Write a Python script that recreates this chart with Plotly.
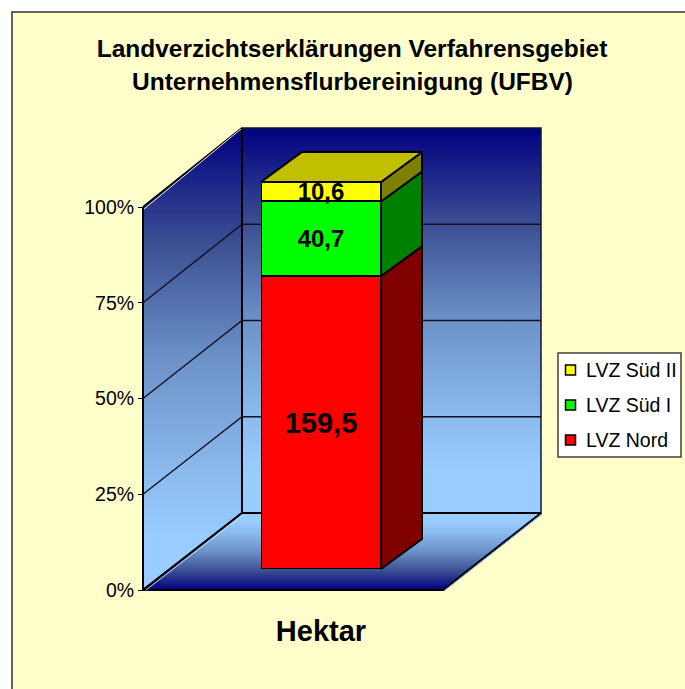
import plotly.graph_objects as go

# ---- data ----
category = ["Hektar"]
series_names = ["LVZ Nord", "LVZ Süd I", "LVZ Süd II"]
series_values = [159.5, 40.7, 10.6]
series_colors = ["#FF0000", "#00FF00", "#FFFF00"]
side_colors = ["#800000", "#008000", "#808000"]
top_color = "#C0C000"
pct_ticks = [0, 25, 50, 75, 100]
title_lines = ["Landverzichtserklärungen Verfahrensgebiet", "Unternehmensflurbereinigung (UFBV)"]

# ---- geometry of the pseudo-3D box (pixels) ----
W, H = 685, 689
WALL_L, WALL_R, WALL_T, WALL_B = 242, 541, 128, 513
FRONT_L, FRONT_R, FRONT_T, FRONT_B = 143, 443, 207, 590
BAR_L, BAR_R, BAR_T, BAR_B = 261, 381, 182, 569
DEPTH_X, DEPTH_Y = 41, -30
FONT = "Liberation Sans, Arial, sans-serif"

# wall shading, sky at the floor to navy at the top
SHADE = [[0, "#99CCFF"], [0.11, "#99CCFF"], [0.25, "#8CBBEE"], [0.5, "#6C92C8"], [0.75, "#3B4F92"], [1, "#000080"]]
SHADE_REV = [[round(1 - p, 2), c] for p, c in SHADE[::-1]]

fig = go.Figure()


def poly(xs, ys, fill=None, grad=None, lw=1.5, lc="black", yaxis="y", xaxis="x"):
    kw = dict(x=xs + xs[:1], y=ys + ys[:1], mode="lines", fill="toself",
              line=dict(color=lc, width=lw), showlegend=False, hoverinfo="skip",
              xaxis=xaxis, yaxis=yaxis)
    if grad:
        kw["fillgradient"] = grad
    else:
        kw["fillcolor"] = fill
    fig.add_trace(go.Scatter(**kw))


def edge(xs, ys, color, width):
    fig.add_trace(go.Scatter(x=xs, y=ys, mode="lines", line=dict(color=color, width=width),
                             showlegend=False, hoverinfo="skip"))


left_grad = dict(type="vertical", colorscale=SHADE, start=FRONT_B, stop=WALL_T)
back_grad = dict(type="vertical", colorscale=SHADE, start=WALL_B, stop=WALL_T)
floor_grad = dict(type="vertical", colorscale=SHADE_REV, start=FRONT_B, stop=WALL_B)

# walls and floor
poly([WALL_L, WALL_R, WALL_R, WALL_L], [WALL_T, WALL_T, WALL_B, WALL_B], grad=back_grad, lc="#101830")
poly([FRONT_L, WALL_L, WALL_L, FRONT_L], [FRONT_T, WALL_T, WALL_B, FRONT_B], grad=left_grad, lw=2)
poly([FRONT_L, FRONT_R, WALL_R, WALL_L], [FRONT_B, FRONT_B, WALL_B, WALL_B], grad=floor_grad, lw=2)

# highlights next to the edges
edge([FRONT_L + 1, WALL_L - 1], [FRONT_T + 2, WALL_T + 1], "#F4F0D8", 1)
edge([FRONT_L + 3, WALL_L + 1], [FRONT_B, WALL_B + 2], "#BBDDFF", 1)
edge([FRONT_R + 1, WALL_R + 1], [FRONT_B + 1, WALL_B + 1], "#6699EE", 1)

# grid lines, projected from the percent ticks
for t in pct_ticks[1:-1]:
    yf = FRONT_B + (FRONT_T - FRONT_B) * t / 100
    yb = WALL_B + (WALL_T - WALL_B) * t / 100
    fig.add_trace(go.Scatter(x=[FRONT_L, WALL_L, WALL_R], y=[yf, yb, yb], mode="lines",
                             line=dict(color="#101020", width=1.4),
                             showlegend=False, hoverinfo="skip"))

# side and top faces of the stacked bar, from the values
total = sum(series_values)
cum = 0.0
for v, c in zip(series_values, side_colors):
    y0 = BAR_B + (BAR_T - BAR_B) * cum / total
    cum += v
    y1 = BAR_B + (BAR_T - BAR_B) * cum / total
    poly([BAR_R, BAR_R + DEPTH_X, BAR_R + DEPTH_X, BAR_R],
         [y0, y0 + DEPTH_Y, y1 + DEPTH_Y, y1], fill=c, lw=2)
poly([BAR_L, BAR_R, BAR_R + DEPTH_X, BAR_L + DEPTH_X],
     [BAR_T, BAR_T, BAR_T + DEPTH_Y, BAR_T + DEPTH_Y], fill=top_color, lw=2)

# legend entries (compact key, as in the reference)
LEG_L, LEG_R, LEG_T, LEG_B = 558, 681, 353, 457
leg_rows = [370, 405, 440]
for name, color, yy in zip(series_names[::-1], series_colors[::-1], leg_rows):
    fig.add_trace(go.Scatter(x=[570.5], y=[yy], mode="markers", showlegend=False, hoverinfo="skip",
                             marker=dict(symbol="square", size=10, color=color,
                                         line=dict(color="black", width=1.5))))
    fig.add_annotation(x=584, y=yy, xref="x", yref="y", text=name, showarrow=False,
                       xanchor="left", yanchor="middle",
                       font=dict(family=FONT, size=19.5, color="black"))

# the bars themselves
for name, v, color, size in zip(series_names, series_values, series_colors, [29, 24, 24]):
    fig.add_trace(go.Bar(x=category, y=[v], name=name, marker=dict(color=color, line=dict(color="black", width=2)),
                         text=[f"{v}".replace(".", ",")], textposition="inside", insidetextanchor="middle",
                         textangle=0, constraintext="none", cliponaxis=False,
                         textfont=dict(family=FONT, size=size, color="black", weight="bold"),
                         xaxis="x2", yaxis="y2", showlegend=False))

# percent axis carrier
fig.add_trace(go.Scatter(x=[None], y=[None], xaxis="x", yaxis="y3", showlegend=False, hoverinfo="skip"))

# second title line
fig.add_annotation(x=352, y=81, xref="x", yref="y", text=title_lines[1], showarrow=False,
                   xanchor="center", yanchor="middle",
                   font=dict(family=FONT, size=24.5, color="black", weight="bold"))

fig.update_layout(
    width=W, height=H, autosize=False,
    margin=dict(l=0, r=0, t=0, b=0, pad=0, autoexpand=False),
    paper_bgcolor="white", plot_bgcolor="rgba(0,0,0,0)",
    barmode="stack", barnorm="percent", bargap=0,
    showlegend=False,
    title=dict(text=title_lines[0], x=352 / W, xanchor="center", y=1 - 48 / H, yanchor="middle",
               font=dict(family=FONT, size=24.5, color="black", weight="bold")),
    xaxis=dict(domain=[0, 1], range=[0, W], visible=False, fixedrange=True),
    yaxis=dict(domain=[0, 1], range=[H, 0], visible=False, fixedrange=True),
    xaxis2=dict(domain=[BAR_L / W, BAR_R / W], anchor="y2", range=[-0.5, 0.5], type="category",
                showgrid=False, zeroline=False, showline=False,
                ticks="outside", ticklen=36, tickcolor="rgba(0,0,0,0)",
                tickfont=dict(family=FONT, size=29, color="black", weight="bold")),
    yaxis2=dict(domain=[1 - BAR_B / H, 1 - BAR_T / H], anchor="x2", range=[0, 100], visible=False),
    yaxis3=dict(domain=[1 - FRONT_B / H, 1 - FRONT_T / H], range=[0, 100], anchor="free",
                position=FRONT_L / W, side="left",
                tickvals=pct_ticks, ticktext=[f"{t}%" for t in pct_ticks],
                ticks="outside", ticklen=5, tickcolor="black", tickwidth=1,
                showline=True, linecolor="black", linewidth=1,
                showgrid=False, zeroline=False,
                tickfont=dict(family=FONT, size=19.5, color="black")),
    shapes=[
        dict(type="rect", xref="x", yref="y", x0=12, x1=W + 5, y0=12, y1=H + 5, layer="below",
             fillcolor="#FFFFCC", line=dict(color="#303030", width=1.5)),
        dict(type="rect", xref="x", yref="y", x0=LEG_L, x1=LEG_R, y0=LEG_T, y1=LEG_B, layer="below",
             fillcolor="white", line=dict(color="#404040", width=1.5)),
    ],
)

fig.write_html("out.html", config={"displayModeBar": False},
               post_script="document.body.style.margin='0';document.documentElement.style.overflow='hidden';")
